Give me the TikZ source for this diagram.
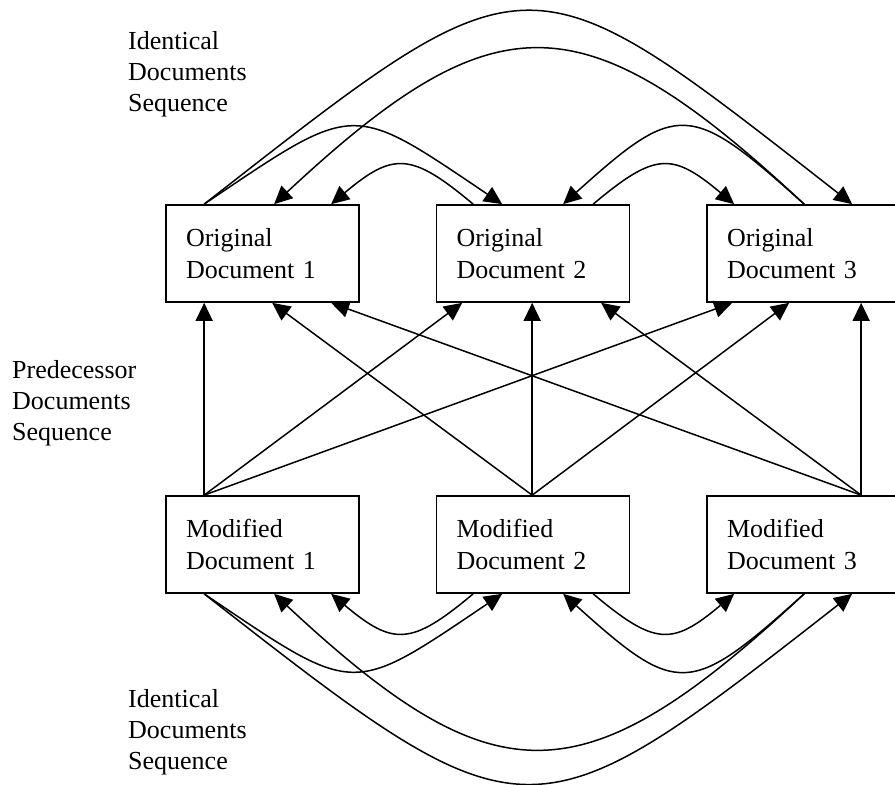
\documentclass[tikz,border=0pt]{standalone}
\usepackage{fontspec}
\setmainfont{Liberation Serif}
\usetikzlibrary{arrows.meta,positioning}

\begin{document}
\begin{tikzpicture}[x=1pt, y=1pt,
  docbox/.style={draw, line width=1.7pt, minimum width=193pt, minimum height=97pt,
    text width=153pt, inner xsep=20pt, align=left,
    font=\fontsize{26pt}{32pt}\selectfont},
  lab/.style={font=\fontsize{26pt}{31pt}\selectfont, align=left, inner sep=0pt,
    anchor=north west},
  arr/.style={line width=1.5pt, -{Triangle[length=18pt, width=17pt]}}]
  \useasboundingbox (0,0) rectangle (895,785);
  \foreach \i/\x in {1/262.5, 2/533, 3/803.5}
    {
      \node[docbox] (O\i) at (\x, 531.5) {Original\\Document \i};
      \node[docbox] (M\i) at (\x, 240.5) {Modified\\Document \i};
    }
  % predecessor links, modified -> original
  \foreach \m/\a/\o/\b in {1/39/1/39, 1/39/2/26.5, 1/39/3/26,
      2/96.5/1/107, 2/96.5/2/96.5, 2/96.5/3/83,
      3/155/1/166, 3/155/2/165.5, 3/155/3/155}
    \draw[arr] ([xshift=\a pt]M\m.north west) -- ([xshift=\b pt]O\o.south west);
  % identical sequence, originals
  \draw[arr] ([xshift=39pt]O1.north west) to[out=38, in=142, distance=417pt] ([xshift=146pt]O3.north west);
  \draw[arr] ([xshift=98pt]O3.north west) to[out=137, in=43, distance=303pt] ([xshift=109pt]O1.north west);
  \draw[arr] ([xshift=39pt]O1.north west) to[out=34, in=146, distance=184pt] ([xshift=66.5pt]O2.north west);
  \draw[arr] ([xshift=37.5pt]O2.north west) to[out=140, in=40, distance=81pt] ([xshift=166pt]O1.north west);
  \draw[arr] ([xshift=98pt]O3.north west) to[out=138, in=42, distance=154pt] ([xshift=127.5pt]O2.north west);
  \draw[arr] ([xshift=157.5pt]O2.north west) to[out=40, in=140, distance=81pt] ([xshift=28pt]O3.north west);
  % identical sequence, modified
  \draw[arr] ([xshift=39pt]M1.south west) to[out=-38, in=-142, distance=410pt] ([xshift=146pt]M3.south west);
  \draw[arr] ([xshift=98pt]M3.south west) to[out=-137, in=-43, distance=303pt] ([xshift=109pt]M1.south west);
  \draw[arr] ([xshift=39pt]M1.south west) to[out=-34, in=-146, distance=184pt] ([xshift=66.5pt]M2.south west);
  \draw[arr] ([xshift=37.5pt]M2.south west) to[out=-140, in=-40, distance=81pt] ([xshift=166pt]M1.south west);
  \draw[arr] ([xshift=98pt]M3.south west) to[out=-138, in=-42, distance=154pt] ([xshift=127.5pt]M2.south west);
  \draw[arr] ([xshift=157.5pt]M2.south west) to[out=-40, in=-140, distance=81pt] ([xshift=28pt]M3.south west);
  \node[lab] (topseq) at (128, 754) {Identical\\Documents\\Sequence};
  \node[lab] (predseq) at (12, 425) {Predecessor\\Documents\\Sequence};
  \node[lab] (botseq) at (128, 96) {Identical\\Documents\\Sequence};
\end{tikzpicture}
\end{document}
